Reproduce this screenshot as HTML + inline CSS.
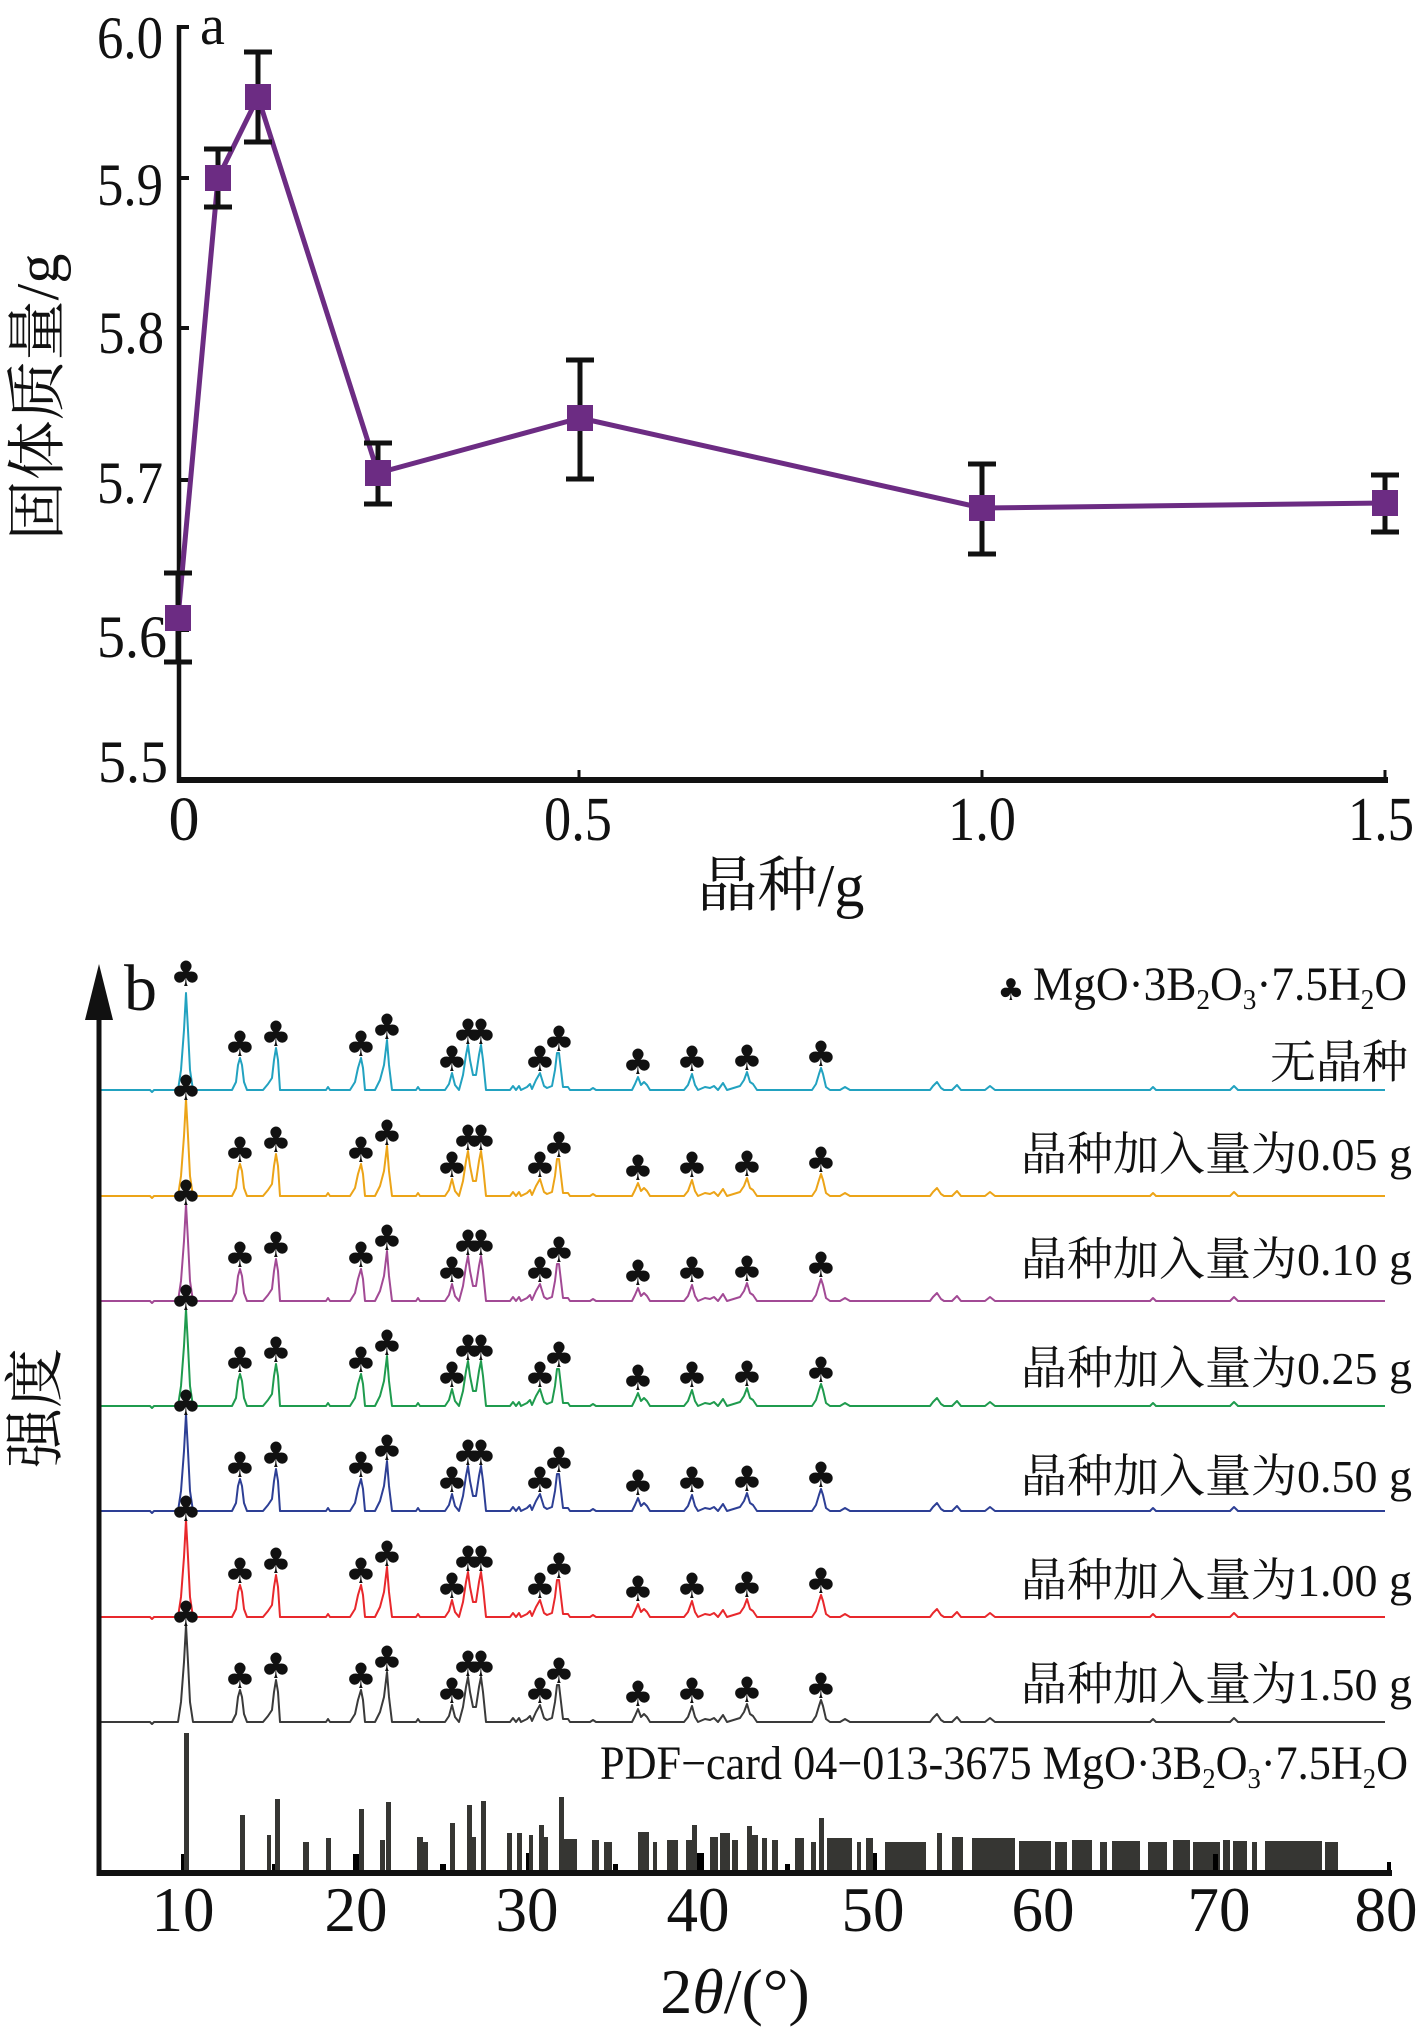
<!DOCTYPE html>
<html>
<head>
<meta charset="utf-8">
<style>
  html,body{margin:0;padding:0;background:#fff;}
  svg{display:block;}
  .ser{font-family:"Liberation Serif","Noto Serif CJK SC",serif;fill:#111;}
  .cjk{font-family:"Liberation Serif","Noto Serif CJK SC","Noto Sans CJK SC",serif;fill:#111;}
  .club{font-family:"DejaVu Sans",sans-serif;font-size:35px;fill:#111;text-anchor:middle;}
</style>
</head>
<body>
<svg width="1417" height="2031" viewBox="0 0 1417 2031" xmlns="http://www.w3.org/2000/svg">
<rect width="1417" height="2031" fill="#fff"/>

<!-- ================= Chart a ================= -->
<g stroke="#111" fill="none">
  <line x1="179" y1="25" x2="179" y2="783" stroke-width="4.5"/>
  <line x1="177" y1="780" x2="1388" y2="780" stroke-width="6"/>
  <line x1="179" y1="27" x2="189" y2="27" stroke-width="4"/>
  <line x1="179" y1="178" x2="189" y2="178" stroke-width="4"/>
  <line x1="179" y1="328" x2="189" y2="328" stroke-width="4"/>
  <line x1="179" y1="480" x2="189" y2="480" stroke-width="4"/>
  <line x1="179" y1="630" x2="189" y2="630" stroke-width="4"/>
  <line x1="579" y1="770" x2="579" y2="780" stroke-width="3"/>
  <line x1="982" y1="770" x2="982" y2="780" stroke-width="3"/>
  <line x1="1385" y1="770" x2="1385" y2="780" stroke-width="3"/>
</g>

<g class="ser" font-size="60">
  <text x="97" y="58" textLength="66" lengthAdjust="spacingAndGlyphs">6.0</text>
  <text x="97" y="205" textLength="66" lengthAdjust="spacingAndGlyphs">5.9</text>
  <text x="98" y="353" textLength="66" lengthAdjust="spacingAndGlyphs">5.8</text>
  <text x="97" y="503" textLength="66" lengthAdjust="spacingAndGlyphs">5.7</text>
  <text x="97" y="657" textLength="70" lengthAdjust="spacingAndGlyphs">5.6</text>
  <text x="98" y="782" textLength="70" lengthAdjust="spacingAndGlyphs">5.5</text>
</g>
<text class="ser" x="200" y="44" font-size="56">a</text>

<g class="ser" font-size="62" text-anchor="middle">
  <text x="184" y="840">0</text>
  <text x="578" y="840" textLength="68" lengthAdjust="spacingAndGlyphs">0.5</text>
  <text x="982" y="840" textLength="68" lengthAdjust="spacingAndGlyphs">1.0</text>
  <text x="1381" y="840" textLength="66" lengthAdjust="spacingAndGlyphs">1.5</text>
</g>
<text class="cjk" x="781" y="906" font-size="60" text-anchor="middle">晶种/g</text>
<text class="cjk" font-size="60" text-anchor="middle" transform="translate(58,397) rotate(-90)">固体质量/g</text>

<!-- data line -->
<polyline points="178,618 218,178 258,97 378,473 580,418 982,508 1385,503" fill="none" stroke="#6c2c83" stroke-width="5" stroke-linejoin="round"/>
<!-- error bars -->
<g stroke="#111" stroke-width="5" fill="none">
  <line x1="178" y1="573" x2="178" y2="662"/><line x1="164" y1="573" x2="192" y2="573"/><line x1="164" y1="662" x2="192" y2="662"/>
  <line x1="218" y1="149" x2="218" y2="207"/><line x1="204" y1="149" x2="232" y2="149"/><line x1="204" y1="207" x2="232" y2="207"/>
  <line x1="258" y1="52" x2="258" y2="142"/><line x1="244" y1="52" x2="272" y2="52"/><line x1="244" y1="142" x2="272" y2="142"/>
  <line x1="378" y1="443" x2="378" y2="504"/><line x1="364" y1="443" x2="392" y2="443"/><line x1="364" y1="504" x2="392" y2="504"/>
  <line x1="580" y1="360" x2="580" y2="479"/><line x1="566" y1="360" x2="594" y2="360"/><line x1="566" y1="479" x2="594" y2="479"/>
  <line x1="982" y1="464" x2="982" y2="554"/><line x1="968" y1="464" x2="996" y2="464"/><line x1="968" y1="554" x2="996" y2="554"/>
  <line x1="1385" y1="475" x2="1385" y2="532"/><line x1="1371" y1="475" x2="1399" y2="475"/><line x1="1371" y1="532" x2="1399" y2="532"/>
</g>
<!-- markers -->
<g fill="#6c2c83">
  <rect x="165" y="605" width="26" height="26"/>
  <rect x="205" y="165" width="26" height="26"/>
  <rect x="245" y="84" width="26" height="26"/>
  <rect x="365" y="460" width="26" height="26"/>
  <rect x="567" y="405" width="26" height="26"/>
  <rect x="969" y="495" width="26" height="26"/>
  <rect x="1372" y="490" width="26" height="26"/>
</g>

<!-- ================= Chart b ================= -->
<defs>
  <path id="xrd" fill="none" stroke-width="2" stroke-linejoin="round"
   d="M101,0 H150 l2,2 l2,-2 H178 L181,-20 L184,-60 L186,-97 L188,-60 L190,-20 L193,0 H232 L236,-8 L238,-25 L240,-32 L242,-25 L244,-8 L247,0 H263 L268,-6 L272,-12 L274,-30 L276,-42 L278,-30 L280,0 H326 L328,-3 L330,0 H350 L355,-8 L358,-22 L361,-32 L363,-22 L365,0 H375 L380,-10 L384,-25 L387,-50 L389,-25 L392,0 H416 L418,-3 L420,0 H445 L449,-6 L452,-17 L455,-5 L459,0 L463,-15 L466,-35 L468,-45 L470,-30 L473,-15 L476,-15 L479,-35 L481,-45 L483,-30 L486,0 H510 L513,-4 L516,0 L519,-4 L521,0 L527,-3 L530,-6 L532,-1 L536,-10 L540,-17 L544,-4 L547,-2 L552,-4 L555,-20 L557,-37 L559,-37 L561,-20 L563,-3 L568,-3 L570,0 H590 L593,-2 L596,0 H632 L635,-6 L638,-13 L641,-5 L644,-8 L647,-5 L650,0 H684 L688,-5 L692,-16 L695,-5 L698,0 L705,-3 L710,-2 L714,-4 L718,0 L723,-7 L727,0 L740,-4 L744,-10 L747,-18 L750,-8 L753,-6 L757,0 H812 L816,-6 L819,-16 L821,-22 L823,-16 L826,-3 L830,0 H840 L845,-3 L850,0 H930 L933,-4 L937,-8 L941,-2 L944,0 H952 L957,-5 L961,0 H985 L990,-4 L995,0 H1150 L1153,-3 L1156,0 H1230 L1234,-4 L1238,0 H1385"/>
</defs>

<!-- patterns -->
<g transform="translate(0,1090)">
  <use href="#xrd" stroke="#22a2c0"/>
  <text class="club" x="186 240 276 361 387 452 468 481 540 559 638 692 747 821" y="-104 -34 -44 -34 -51 -19 -46 -46 -19 -39 -16 -19 -20 -24">♣♣♣♣♣♣♣♣♣♣♣♣♣♣</text>
</g>
<g transform="translate(0,1196)">
  <use href="#xrd" stroke="#eca418"/>
  <text class="club" x="186 240 276 361 387 452 468 481 540 559 638 692 747 821" y="-96 -34 -44 -34 -51 -19 -46 -46 -19 -39 -16 -19 -20 -24">♣♣♣♣♣♣♣♣♣♣♣♣♣♣</text>
</g>
<g transform="translate(0,1301)">
  <use href="#xrd" stroke="#a24a95"/>
  <text class="club" x="186 240 276 361 387 452 468 481 540 559 638 692 747 821" y="-96 -34 -44 -34 -51 -19 -46 -46 -19 -39 -16 -19 -20 -24">♣♣♣♣♣♣♣♣♣♣♣♣♣♣</text>
</g>
<g transform="translate(0,1406)">
  <use href="#xrd" stroke="#1f9b4e"/>
  <text class="club" x="186 240 276 361 387 452 468 481 540 559 638 692 747 821" y="-96 -34 -44 -34 -51 -19 -46 -46 -19 -39 -16 -19 -20 -24">♣♣♣♣♣♣♣♣♣♣♣♣♣♣</text>
</g>
<g transform="translate(0,1511)">
  <use href="#xrd" stroke="#2d3f95"/>
  <text class="club" x="186 240 276 361 387 452 468 481 540 559 638 692 747 821" y="-96 -34 -44 -34 -51 -19 -46 -46 -19 -39 -16 -19 -20 -24">♣♣♣♣♣♣♣♣♣♣♣♣♣♣</text>
</g>
<g transform="translate(0,1617)">
  <use href="#xrd" stroke="#e8282c"/>
  <text class="club" x="186 240 276 361 387 452 468 481 540 559 638 692 747 821" y="-96 -34 -44 -34 -51 -19 -46 -46 -19 -39 -16 -19 -20 -24">♣♣♣♣♣♣♣♣♣♣♣♣♣♣</text>
</g>
<g transform="translate(0,1722)">
  <use href="#xrd" stroke="#3a3a3a"/>
  <text class="club" x="186 240 276 361 387 452 468 481 540 559 638 692 747 821" y="-96 -34 -44 -34 -51 -19 -46 -46 -19 -39 -16 -19 -20 -24">♣♣♣♣♣♣♣♣♣♣♣♣♣♣</text>
</g>

<!-- PDF reference bars -->
<path fill="#363633" d="M184 1871V1733H189V1871Z M240 1871V1815H245V1871Z M267 1871V1835H271V1871Z M275 1871V1799H280V1871Z M303 1871V1842H309V1871Z M326 1871V1838H331V1871Z M359 1871V1809H364V1871Z M380 1871V1840H385V1871Z M386 1871V1802H391V1871Z M417 1871V1837H423V1871Z M423 1871V1842H428V1871Z M450 1871V1823H455V1871Z M467 1871V1805H472V1871Z M472 1871V1837H476V1871Z M481 1871V1801H486V1871Z M507 1871V1833H512V1871Z M517 1871V1833H522V1871Z M529 1871V1835H533V1871Z M539 1871V1825H544V1871Z M544 1871V1837H548V1871Z M559 1871V1797H564V1871Z M564 1871V1839H577V1871Z M592 1871V1840H599V1871Z M604 1871V1842H612V1871Z M638 1871V1832H649V1871Z M653 1871V1842H657V1871Z M667 1871V1840H678V1871Z M686 1871V1840H692V1871Z M692 1871V1825H697V1871Z M710 1871V1837H718V1871Z M720 1871V1833H730V1871Z M732 1871V1840H738V1871Z M747 1871V1826H752V1871Z M752 1871V1835H758V1871Z M762 1871V1838H767V1871Z M772 1871V1840H778V1871Z M795 1871V1838H804V1871Z M811 1871V1842H816V1871Z M819 1871V1818H824V1871Z M827 1871V1838H852V1871Z M857 1871V1842H861V1871Z M866 1871V1838H873V1871Z M885 1871V1842H926V1871Z M937 1871V1833H942V1871Z M952 1871V1837H963V1871Z M972 1871V1838H1015V1871Z M1019 1871V1841H1051V1871Z M1055 1871V1842H1067V1871Z M1072 1871V1840H1092V1871Z M1100 1871V1842H1107V1871Z M1112 1871V1841H1140V1871Z M1148 1871V1842H1167V1871Z M1173 1871V1840H1190V1871Z M1193 1871V1842H1220V1871Z M1223 1871V1840H1230V1871Z M1233 1871V1841H1247V1871Z M1252 1871V1842H1257V1871Z M1265 1871V1841H1322V1871Z M1325 1871V1842H1338V1871Z"/>
<path fill="#000" d="M181 1871V1854H184V1871Z M272 1871V1864H275V1871Z M353 1871V1854H359V1871Z M440 1871V1864H446V1871Z M526 1871V1853H529V1871Z M613 1871V1864H618V1871Z M697 1871V1853H704V1871Z M785 1871V1864H790V1871Z M873 1871V1853H877V1871Z M1213 1871V1854H1218V1871Z M1387 1871V1862H1391V1871Z"/>

<!-- axes b -->
<line x1="99" y1="1015" x2="99" y2="1876" stroke="#111" stroke-width="5"/>
<polygon points="99,964 85,1020 113,1020" fill="#111"/>
<line x1="97" y1="1873" x2="1392" y2="1873" stroke="#111" stroke-width="6"/>

<text class="ser" x="124" y="1010" font-size="66">b</text>

<!-- legend -->
<text class="club" x="1011" y="1000" style="font-size:30px">♣</text>
<text class="ser" x="1033" y="1000" font-size="48" textLength="374" lengthAdjust="spacingAndGlyphs">MgO·3B<tspan font-size="29" dy="9">2</tspan><tspan dy="-9">O</tspan><tspan font-size="29" dy="9">3</tspan><tspan dy="-9">·7.5H</tspan><tspan font-size="29" dy="9">2</tspan><tspan dy="-9">O</tspan></text>

<!-- right labels -->
<g class="cjk" font-size="46" text-anchor="end">
  <text x="1408" y="1078">无晶种</text>
  <text x="1412" y="1170">晶种加入量为0.05 g</text>
  <text x="1412" y="1275">晶种加入量为0.10 g</text>
  <text x="1412" y="1384">晶种加入量为0.25 g</text>
  <text x="1412" y="1492">晶种加入量为0.50 g</text>
  <text x="1412" y="1596">晶种加入量为1.00 g</text>
  <text x="1412" y="1700">晶种加入量为1.50 g</text>
</g>

<text class="ser" x="600" y="1779" font-size="48" textLength="808" lengthAdjust="spacingAndGlyphs">PDF−card 04−013-3675 MgO·3B<tspan font-size="29" dy="9">2</tspan><tspan dy="-9">O</tspan><tspan font-size="29" dy="9">3</tspan><tspan dy="-9">·7.5H</tspan><tspan font-size="29" dy="9">2</tspan><tspan dy="-9">O</tspan></text>

<!-- x ticks labels b -->
<g class="ser" font-size="63" text-anchor="middle">
  <text x="183" y="1931">10</text>
  <text x="356" y="1931">20</text>
  <text x="527" y="1931">30</text>
  <text x="698" y="1931">40</text>
  <text x="873" y="1931">50</text>
  <text x="1043" y="1931">60</text>
  <text x="1219" y="1931">70</text>
  <text x="1386" y="1931">80</text>
</g>
<text class="ser" x="735" y="2013" font-size="64" text-anchor="middle">2<tspan font-style="italic">θ</tspan>/(°)</text>
<text class="cjk" font-size="60" text-anchor="middle" transform="translate(56,1408) rotate(-90)">强度</text>

</svg>
</body>
</html>
